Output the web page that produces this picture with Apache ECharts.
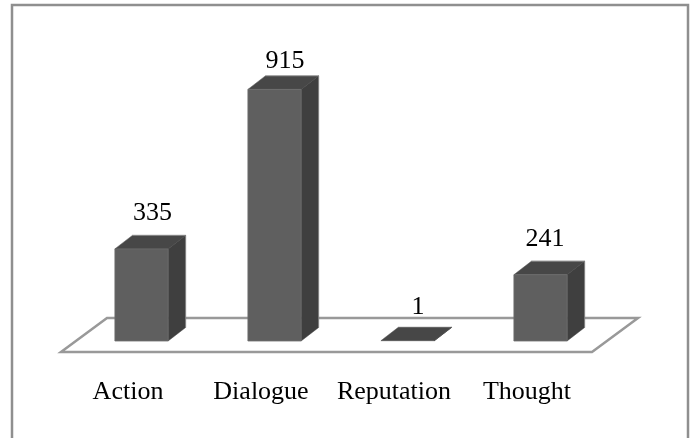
<!DOCTYPE html>
<html><head><meta charset="utf-8">
<style>html,body{margin:0;padding:0;background:#fff}#c{width:694px;height:438px}</style>
<script src="https://cdn.jsdelivr.net/npm/echarts@6/dist/echarts.min.js"></script>
</head><body><div id="c"></div>
<script>
const categories = ['Action', 'Dialogue', 'Reputation', 'Thought'];
const values = [335, 915, 1, 241];

const FONT = '"Liberation Serif","Times New Roman",serif';
const DEPTH = [17.5, -13.5];
const FLOOR_PAD = { left: 14, right: 15, front: 11, dx: 46, dy: -34 };
const LABEL_SHIFT = [11, 10.5, 10.5, 4.5];
const LABEL_GAP = [9.5, 1.5, 7, 9];

function renderBar(params, api) {
  const i = api.value(0), v = api.value(1);
  const [cx, y0] = api.coord([i, 0]);
  const [, y1] = api.coord([i, v]);
  const w = api.size([1, 0])[0] * 0.4;
  const l = cx - w / 2, r = cx + w / 2;
  const [dx, dy] = DEPTH;
  const solid = v > 5;
  const face = (pts, fill) => ({ type: 'polygon', shape: { points: pts }, style: { fill, stroke: fill, lineWidth: 0.5 } });
  const children = [
    face([[r, y1], [r + dx, y1 + dy], [r + dx, y0 + dy], [r, y0]], '#3f3f3f'),
    face([[l, y1], [l + dx, y1 + dy], [r + dx, y1 + dy], [r, y1]], '#474747'),
    { type: 'rect', shape: { x: l, y: y1, width: w, height: y0 - y1 },
      style: { fill: '#5f5f5f', stroke: '#6e6e6e', lineWidth: solid ? 0.8 : 0 } },
    { type: 'text', style: { text: String(v), x: cx + LABEL_SHIFT[i], y: y1 + dy - LABEL_GAP[i],
      font: '26px ' + FONT, fill: '#000', align: 'center', verticalAlign: 'bottom' } }
  ];
  if (solid) {
    children.push({ type: 'polyline',
      shape: { points: [[l + dx, y1 + dy], [r + dx, y1 + dy], [r + dx, y0 + dy]] },
      style: { fill: 'none', stroke: '#8a8a8a', lineWidth: 0.8 } });
  }
  return { type: 'group', children };
}

function renderFloor(params, api) {
  const cs = params.coordSys;
  const y0 = api.coord([0, 0])[1] + FLOOR_PAD.front;
  const xl = cs.x - FLOOR_PAD.left, xr = cs.x + cs.width - FLOOR_PAD.right;
  return {
    type: 'polygon',
    shape: { points: [[xl, y0], [xr, y0], [xr + FLOOR_PAD.dx, y0 + FLOOR_PAD.dy], [xl + FLOOR_PAD.dx, y0 + FLOOR_PAD.dy]] },
    style: { fill: '#fff', stroke: '#999999', lineWidth: 2.5 }
  };
}

const chart = echarts.init(document.getElementById('c'), null, { renderer: 'canvas' });
chart.setOption({
  animation: false,
  backgroundColor: '#fff',
  graphic: [{ type: 'rect', silent: true, z: 0,
    shape: { x: 12, y: 5, width: 676, height: 440 },
    style: { fill: 'none', stroke: '#8f8f8f', lineWidth: 2.5 } }],
  grid: { left: 75, right: 87, top: 66, bottom: 97 },
  xAxis: { type: 'category', data: categories,
    axisLine: { show: false }, axisTick: { show: false },
    axisLabel: { fontFamily: FONT, fontSize: 26, color: '#000', margin: 38, padding: [0, 27, 0, 0], interval: 0 } },
  yAxis: { type: 'value', min: 0, max: 1000, show: false, splitLine: { show: false } },
  series: [
    { type: 'custom', renderItem: renderFloor, data: [[0]], silent: true, z: 1, clip: false, encode: { x: 0 } },
    { type: 'custom', renderItem: renderBar, data: values.map((v, i) => [i, v]), z: 2, clip: false, encode: { x: 0, y: 1 } }
  ]
});
</script></body></html>
